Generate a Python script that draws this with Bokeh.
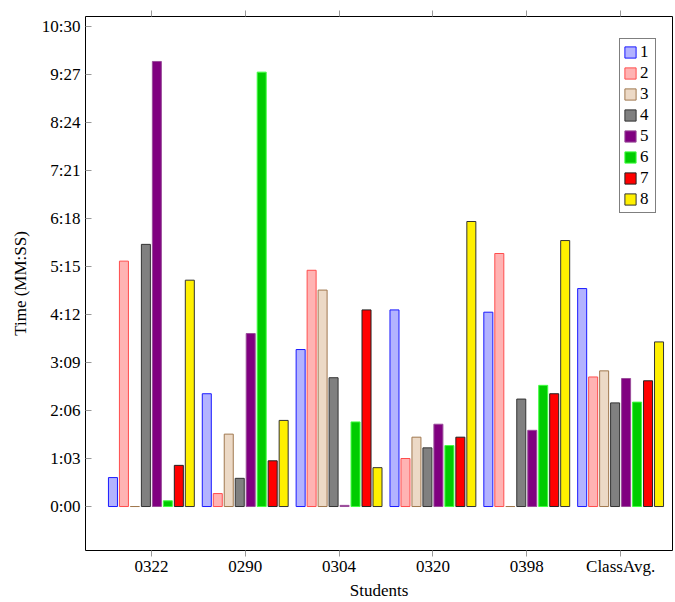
from bokeh.plotting import figure
from bokeh.models import (Range1d, FixedTicker, LinearAxis, Legend, LegendItem,
                          ColumnDataSource, CustomJSTickFormatter)
from bokeh.transform import dodge
from bokeh.embed import file_html
from bokeh.resources import INLINE

# ---------------- data ----------------
categories = ["0322", "0290", "0304", "0320", "0398", "ClassAvg."]
series_names = ["1", "2", "3", "4", "5", "6", "7", "8"]

# times in seconds
s1 = [38, 148, 206, 258, 255, 286]
s2 = [322, 17, 310, 63, 332, 170]
s3 = [0, 95, 284, 91, 0, 178]
s4 = [344, 37, 169, 77, 141, 136]
s5 = [584, 227, 1.5, 108, 100, 168]
s6 = [7.5, 570, 111, 80, 159, 137]
s7 = [54, 60, 258, 91, 148, 165]
s8 = [297, 113, 51, 374, 349, 216]

tick_seconds = [0, 63, 126, 189, 252, 315, 378, 441, 504, 567, 630]
tick_labels = ["0:00", "1:03", "2:06", "3:09", "4:12", "5:15", "6:18",
               "7:21", "8:24", "9:27", "10:30"]

fill_colors = ["#b3b3ff", "#ffb3b3", "#ecd9c6", "#808080",
               "#800080", "#00cc00", "#ff0000", "#fff000"]
line_colors = ["#1a1aff", "#ff4d4d", "#a0784f", "#333333",
               "#9a4d9a", "#40ff40", "#222222", "#333333"]

FONT = "Liberation Serif"

source = ColumnDataSource(dict(
    idx=list(range(len(categories))), cat=categories,
    s1=s1, s2=s2, s3=s3, s4=s4, s5=s5, s6=s6, s7=s7, s8=s8))

p = figure(width=675, height=602,
           x_range=Range1d(-0.702, 5.553), y_range=Range1d(-57.7, 643),
           output_backend="svg", toolbar_location=None,
           min_border_left=85, min_border_top=16, min_border_right=3,
           min_border_bottom=52)
p.background_fill_color = "white"
p.outline_line_color = "black"
p.outline_line_width = 1
p.xgrid.visible = False
p.ygrid.visible = False

pitch = 0.117
bar_w = 0.096
renderers = []
for k, name in enumerate(series_names):
    r = p.vbar(x=dodge("idx", (k - 3.5) * pitch), top=f"s{k+1}", bottom=0,
               width=bar_w, source=source,
               fill_color=fill_colors[k], line_color=line_colors[k],
               line_width=1)
    renderers.append(r)

# x axis
xa = p.xaxis[0]
xa.ticker = FixedTicker(ticks=list(range(len(categories))))
xa.major_label_overrides = {i: c for i, c in enumerate(categories)}
xa.major_tick_out = 6
xa.major_tick_in = 0
xa.minor_tick_line_color = None
xa.major_tick_line_color = "#999999"
xa.axis_line_color = None
xa.major_label_text_font = FONT
xa.major_label_text_font_size = "17px"
xa.major_label_text_color = "black"
xa.major_label_standoff = 0
xa.axis_label = "Students"
xa.axis_label_text_font = FONT
xa.axis_label_text_font_size = "17px"
xa.axis_label_text_font_style = "normal"
xa.axis_label_text_color = "black"
xa.axis_label_standoff = 2

# top mirrored ticks (no labels)
top = LinearAxis(ticker=FixedTicker(ticks=list(range(len(categories)))),
                 formatter=CustomJSTickFormatter(code="return ''"),
                 major_label_standoff=0,
                 major_tick_out=6, major_tick_in=0,
                 major_tick_line_color="#999999",
                 minor_tick_line_color=None, axis_line_color=None)
p.add_layout(top, "above")

# y axis
ya = p.yaxis[0]
ya.ticker = FixedTicker(ticks=tick_seconds)
ya.major_label_overrides = {s: l for s, l in zip(tick_seconds, tick_labels)}
ya.major_tick_in = 6
ya.major_tick_out = 0
ya.minor_tick_line_color = None
ya.major_tick_line_color = "#999999"
ya.axis_line_color = None
ya.major_label_text_font = FONT
ya.major_label_text_font_size = "17px"
ya.major_label_text_color = "black"
ya.major_label_standoff = 5
ya.axis_label = "Time (MM:SS)"
ya.axis_label_text_font = FONT
ya.axis_label_text_font_size = "17px"
ya.axis_label_text_font_style = "normal"
ya.axis_label_text_color = "black"
ya.axis_label_standoff = 9

legend = Legend(items=[LegendItem(label=n, renderers=[r])
                       for n, r in zip(series_names, renderers)],
                location=(534, 337))
legend.border_line_color = "black"
legend.border_line_width = 1
legend.background_fill_color = "white"
legend.background_fill_alpha = 1
legend.padding = 3
legend.spacing = 1
legend.margin = 0
legend.glyph_width = 14
legend.glyph_height = 14
legend.label_height = 14
legend.label_width = 12
legend.label_standoff = 3
legend.label_text_font = FONT
legend.label_text_font_size = "17px"
legend.label_text_color = "black"
legend.label_text_baseline = "middle"
p.add_layout(legend, "center")

open("out.html", "w").write(file_html(p, INLINE))
